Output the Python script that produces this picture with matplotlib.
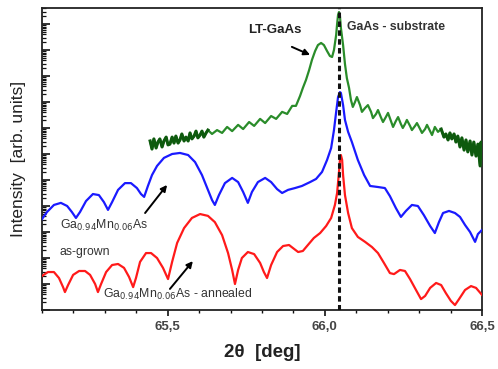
import numpy as np
import matplotlib
matplotlib.use("Agg")
import matplotlib.pyplot as plt
from matplotlib.ticker import LogLocator, NullFormatter, FixedLocator, MultipleLocator

plt.rcParams['font.family'] = ['Liberation Sans', 'DejaVu Sans']

# ---- data: 2theta [deg] and log10(intensity) (stacked, arb. units) ----
red_x = [65.100, 65.119, 65.138, 65.154, 65.167, 65.173, 65.183, 65.199, 65.218, 65.237,
         65.253, 65.269, 65.278, 65.288, 65.304, 65.323, 65.342, 65.361, 65.377, 65.390,
         65.399, 65.412, 65.431, 65.447, 65.466, 65.485, 65.501, 65.514, 65.530, 65.552,
         65.577, 65.603, 65.628, 65.650, 65.673, 65.692, 65.705, 65.714, 65.724, 65.736,
         65.755, 65.775, 65.794, 65.806, 65.816, 65.829, 65.848, 65.867, 65.886, 65.902,
         65.915, 65.930, 65.946, 65.965, 65.985, 66.004, 66.020, 66.032, 66.039, 66.045,
         66.048, 66.051, 66.055, 66.058, 66.064, 66.074, 66.086, 66.105, 66.128, 66.150,
         66.169, 66.188, 66.207, 66.220, 66.239, 66.255, 66.271, 66.290, 66.306, 66.319,
         66.335, 66.354, 66.370, 66.385, 66.401, 66.414, 66.427, 66.446, 66.465, 66.481,
         66.500]
red_logI = [1.31, 1.46, 1.46, 1.23, 0.88, 0.69, 0.96, 1.35, 1.50, 1.50,
            1.35, 1.00, 0.69, 1.00, 1.46, 1.73, 1.77, 1.62, 1.27, 0.88,
            1.23, 1.85, 2.19, 2.19, 2.00, 1.62, 1.19, 1.85, 2.58, 3.15,
            3.54, 3.69, 3.62, 3.38, 2.88, 2.19, 1.54, 1.00, 1.54, 2.00,
            2.23, 2.15, 1.81, 1.46, 1.23, 1.73, 2.23, 2.46, 2.50, 2.35,
            2.23, 2.27, 2.50, 2.77, 2.96, 3.23, 3.54, 4.04, 4.50, 5.31,
            5.77, 5.96, 5.77, 5.19, 4.42, 3.73, 3.15, 2.81, 2.62, 2.42,
            2.19, 1.81, 1.42, 1.38, 1.54, 1.50, 1.19, 0.77, 0.42, 0.54,
            0.85, 1.04, 0.96, 0.65, 0.35, 0.19, 0.42, 0.77, 0.92, 0.85,
            0.58]

blue_x = [65.100, 65.116, 65.138, 65.160, 65.180, 65.195, 65.208, 65.221, 65.240, 65.262,
          65.281, 65.297, 65.310, 65.323, 65.342, 65.364, 65.383, 65.402, 65.415, 65.425,
          65.437, 65.450, 65.466, 65.488, 65.514, 65.539, 65.565, 65.587, 65.609, 65.628,
          65.641, 65.650, 65.663, 65.682, 65.705, 65.724, 65.740, 65.755, 65.768, 65.787,
          65.810, 65.829, 65.848, 65.864, 65.883, 65.905, 65.927, 65.953, 65.972, 65.991,
          66.007, 66.020, 66.029, 66.036, 66.042, 66.048, 66.051, 66.058, 66.064, 66.074,
          66.086, 66.105, 66.125, 66.144, 66.169, 66.191, 66.207, 66.226, 66.242, 66.258,
          66.277, 66.296, 66.315, 66.335, 66.350, 66.363, 66.376, 66.395, 66.414, 66.430,
          66.446, 66.462, 66.478, 66.487, 66.500]
blue_logI = [3.50, 3.77, 4.04, 4.12, 4.00, 3.77, 3.54, 3.77, 4.19, 4.46,
             4.42, 4.15, 3.85, 4.15, 4.62, 4.88, 4.88, 4.69, 4.46, 4.35,
             4.77, 5.19, 5.54, 5.85, 6.00, 6.04, 5.96, 5.69, 5.19, 4.62,
             4.23, 4.04, 4.42, 4.88, 5.08, 4.92, 4.54, 4.12, 4.54, 4.92,
             5.08, 4.92, 4.65, 4.50, 4.62, 4.69, 4.77, 4.92, 5.04, 5.31,
             5.77, 6.23, 6.92, 7.62, 8.19, 8.38, 8.35, 7.88, 7.31, 6.85,
             6.46, 5.77, 5.19, 4.77, 4.73, 4.69, 4.38, 3.92, 3.58, 3.81,
             4.04, 4.00, 3.65, 3.23, 2.96, 3.38, 3.73, 3.81, 3.73, 3.58,
             3.27, 3.00, 2.62, 2.92, 3.08]

green_x = [65.444, 65.450, 65.456, 65.463, 65.469, 65.475, 65.482, 65.488, 65.495, 65.501,
           65.507, 65.514, 65.520, 65.526, 65.533, 65.539, 65.545, 65.552, 65.558, 65.565,
           65.571, 65.577, 65.584, 65.590, 65.596, 65.603, 65.609, 65.615, 65.622, 65.628,
           65.641, 65.657, 65.673, 65.689, 65.705, 65.724, 65.740, 65.759, 65.775, 65.794,
           65.810, 65.829, 65.845, 65.864, 65.880, 65.896, 65.908, 65.921, 65.930, 65.940,
           65.950, 65.959, 65.969, 65.978, 65.988, 65.997, 66.007, 66.016, 66.023, 66.029,
           66.036, 66.039, 66.042, 66.045, 66.048, 66.051, 66.058, 66.064, 66.070, 66.077,
           66.083, 66.089, 66.096, 66.102, 66.112, 66.118, 66.128, 66.137, 66.147, 66.153,
           66.163, 66.169, 66.178, 66.185, 66.194, 66.201, 66.210, 66.217, 66.226, 66.233,
           66.242, 66.248, 66.255, 66.261, 66.271, 66.277, 66.287, 66.293, 66.303, 66.309,
           66.319, 66.325, 66.335, 66.341, 66.350, 66.360, 66.370, 66.379, 66.385, 66.392,
           66.398, 66.404, 66.411, 66.417, 66.423, 66.430, 66.436, 66.443, 66.449, 66.455,
           66.462, 66.468, 66.474, 66.481, 66.487, 66.494, 66.497, 66.500]
green_logI = [6.50, 6.19, 6.58, 6.23, 6.46, 6.58, 6.27, 6.50, 6.65, 6.35,
              6.38, 6.65, 6.42, 6.69, 6.42, 6.54, 6.77, 6.50, 6.65, 6.50,
              6.81, 6.58, 6.69, 6.88, 6.62, 6.73, 6.88, 6.65, 6.81, 6.92,
              6.77, 6.92, 6.81, 7.04, 6.88, 7.12, 6.96, 7.23, 7.08, 7.35,
              7.19, 7.46, 7.35, 7.62, 7.54, 7.85, 7.85, 8.23, 8.54, 8.85,
              9.23, 9.62, 9.96, 10.19, 10.27, 10.19, 9.96, 9.77, 9.73, 10.00,
              10.58, 11.00, 11.35, 11.46, 11.31, 10.85, 10.19, 9.46, 8.92, 8.54,
              8.08, 7.81, 8.00, 8.19, 7.88, 7.62, 7.77, 7.88, 7.62, 7.38,
              7.54, 7.69, 7.42, 7.23, 7.42, 7.58, 7.27, 7.04, 7.27, 7.42,
              7.15, 7.00, 7.15, 7.31, 7.08, 6.92, 7.08, 7.19, 6.96, 6.81,
              6.96, 7.12, 6.88, 6.73, 7.04, 6.85, 6.96, 6.65, 6.77, 6.54,
              6.81, 6.58, 6.77, 6.46, 6.69, 6.27, 6.62, 6.15, 6.54, 6.08,
              6.50, 5.96, 6.46, 5.92, 6.38, 5.54, 6.46, 5.85]

substrate_peak = 66.045
x_ticks = [65.5, 66.0, 66.5]
x_tick_labels = ["65,5", "66,0", "66,5"]

# ---- figure ----
fig = plt.figure(figsize=(4.98, 3.69), dpi=100)
ax = fig.add_axes([42/498, 1 - 310/369, 440/498, 302/369])

red_I = 10 ** np.array(red_logI)
blue_I = 10 ** np.array(blue_logI)
gx = np.array(green_x)
green_I = 10 ** np.array(green_logI)

ax.plot(red_x, red_I, color='#ff1a1a', lw=1.6, zorder=3, solid_joinstyle='round')
ax.plot(blue_x, blue_I, color='#1a1aff', lw=1.6, zorder=3, solid_joinstyle='round')
ax.plot(gx, green_I, color='#2a8c2a', lw=1.6, zorder=3, solid_joinstyle='round')
noisy_l = gx <= 65.63
noisy_r = gx >= 66.37
ax.plot(gx[noisy_l], green_I[noisy_l], color='#0e5a0e', lw=2.2, zorder=3)
ax.plot(gx[noisy_r], green_I[noisy_r], color='#0e5a0e', lw=2.2, zorder=3)

ax.axvline(substrate_peak, color='#111111', lw=2.2, ls=(0, (1.8, 1.1)), zorder=4)

ax.set_yscale('log')
ax.set_xlim(65.1, 66.5)
ax.set_ylim(1, 10 ** 11.615)

ax.yaxis.set_major_locator(LogLocator(base=10, numticks=30))
ax.yaxis.set_minor_locator(LogLocator(base=10, subs=np.arange(2, 10), numticks=30))
ax.yaxis.set_major_formatter(NullFormatter())
ax.yaxis.set_minor_formatter(NullFormatter())
ax.tick_params(axis='y', which='major', direction='in', length=6, width=1.2, color='#111')
ax.tick_params(axis='y', which='minor', direction='in', length=3, width=0.9, color='#111')

ax.xaxis.set_major_locator(FixedLocator(x_ticks))
ax.set_xticklabels(x_tick_labels)
ax.xaxis.set_minor_locator(MultipleLocator(0.1))
ax.tick_params(axis='x', which='major', direction='out', length=4, width=1.2, color='#111',
               labelsize=9.5, labelcolor='#444', pad=4)
ax.tick_params(axis='x', which='minor', direction='out', length=2.5, width=1.0, color='#111')
for lab in ax.get_xticklabels():
    lab.set_fontweight('bold')

for s in ax.spines.values():
    s.set_linewidth(1.3)
    s.set_color('#222')

ax.set_ylabel('Intensity  [arb. units]', fontsize=12.5, color='#222', labelpad=8)
ax.set_xlabel('2\u03b8  [deg]', fontsize=13.5, color='#222', labelpad=8, fontweight='bold')

# ---- annotations ----
ax.text(65.841, 10 ** 10.77, 'LT-GaAs', fontsize=9.5, fontweight='bold', color='#222',
        ha='center', va='center')
ax.text(66.070, 10 ** 10.88, 'GaAs - substrate', fontsize=8.8, fontweight='bold', color='#333',
        ha='left', va='center')
ax.text(65.157, 10 ** 3.27, r'Ga$_{0.94}$Mn$_{0.06}$As', fontsize=8.8, color='#333',
        ha='left', va='center')
ax.text(65.157, 10 ** 2.23, 'as-grown', fontsize=8.8, color='#333', ha='left', va='center')
ax.text(65.294, 10 ** 0.58, r'Ga$_{0.94}$Mn$_{0.06}$As - annealed', fontsize=8.8, color='#333',
        ha='left', va='center')

arrow = dict(arrowstyle='-|>', color='black', lw=1.4, mutation_scale=9, shrinkA=0, shrinkB=0)
ax.annotate('', xy=(65.953, 10 ** 9.81), xytext=(65.895, 10 ** 10.12), arrowprops=arrow)
ax.annotate('', xy=(65.498, 10 ** 4.81), xytext=(65.428, 10 ** 3.73), arrowprops=arrow)
ax.annotate('', xy=(65.580, 10 ** 1.88), xytext=(65.507, 10 ** 0.81), arrowprops=arrow)

fig.savefig('out.png', dpi=100)
